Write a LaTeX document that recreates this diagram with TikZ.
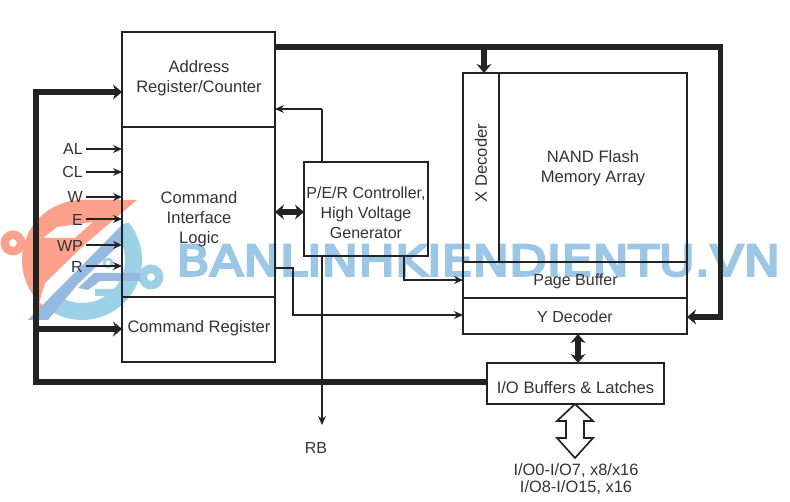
\documentclass[tikz,border=0pt]{standalone}
\usepackage{fontspec}
\setmainfont{Liberation Sans}
\newfontfamily\wmfont[FakeBold=5]{DejaVu Sans}
\usetikzlibrary{arrows.meta,calc}
\definecolor{ink}{RGB}{35,35,35}
\definecolor{txt}{RGB}{50,50,55}
\definecolor{wmred}{RGB}{253,160,140}
\definecolor{wmblue}{RGB}{155,208,230}
\definecolor{wmblue2}{RGB}{150,185,225}
\definecolor{wmtext}{RGB}{155,198,230}
\tikzset{
  box/.style={draw=ink,line width=1.9pt,inner sep=0pt,outer sep=0pt,rectangle,text=txt,align=center,font=\fontsize{16}{20}\selectfont},
  lab/.style={text=txt,align=center,inner sep=0pt,font=\fontsize{16}{20}\selectfont},
  biglab/.style={lab,font=\fontsize{16.6}{20}\selectfont},
  siglab/.style={text=txt,inner sep=2pt,anchor=east,font=\fontsize{16}{20}\selectfont},
  thin arrow/.style={draw=ink,line width=1.1pt,-{Stealth[length=9pt,width=8pt]}},
  thin line/.style={draw=ink,line width=1.1pt},
  bus/.style={draw=ink,line width=5.8pt,miter limit=10},
  bus arrow/.style={bus,-{Stealth[length=9pt,width=15pt]}},
  bus both/.style={bus,{Stealth[length=9pt,width=15pt]}-{Stealth[length=9pt,width=15pt]}}
}
\begin{document}
\begin{tikzpicture}[x=1pt,y=-1pt]
\useasboundingbox (0,0) rectangle (790,502);
% watermark
\fill[wmred,even odd rule] (137,200) -- (82,200) arc[start angle=270,end angle=130,radius=60] -- (37,310) -- (45,283) -- (83,246) -- (118,216) -- cycle
  (57,227) -- (93,222) -- (75,238) -- (43,238) -- cycle;
\fill[wmred,even odd rule] (13,243) circle[radius=12.5] (13,243) circle[radius=4];
\fill[wmred] (24,240) rectangle (84,247);
\fill[wmred,even odd rule] (56,257) circle[radius=5.5] (56,257) circle[radius=2.5];
\begin{scope}
  \clip (28,320) -- (123,224) -- (160,215) -- (160,325) -- (28,325) -- cycle;
  \fill[wmblue,even odd rule] (82,260) circle[radius=60] (82,260) circle[radius=43];
\end{scope}
\fill[wmblue2] (28,320) -- (123,224) -- (123,241) -- (78,284) -- (48,320) -- cycle;
\fill[wmblue,even odd rule] (151,277) circle[radius=12.5] (151,277) circle[radius=4];
\fill[wmblue2] (94,273) -- (140,273) -- (140,281) -- (100,281) -- (88,290) -- (78,288) -- cycle;
\fill[wmblue] (95,289) -- (134,289) -- (128,296) -- (95,296) -- cycle;
\fill[wmblue,even odd rule] (108,263) circle[radius=5.5] (108,263) circle[radius=2.5];
\node[anchor=west,inner sep=0pt,text=wmtext] (wm) at (176,260.5) {\resizebox{604pt}{31pt}{\wmfont BANLINHKIENDIENTU.VN}};
% boxes
\node[box,minimum width=153pt,minimum height=95pt] (addr) at (198.5,79.5) {};
\node[biglab] (addrt) at (199,78) {Address\\Register/Counter};
\node[box,minimum width=153pt,minimum height=170pt] (cil) at (198.5,212) {};
\node[biglab] (cilt) at (199,219) {Command\\Interface\\Logic};
\node[box,minimum width=153pt,minimum height=65pt] (creg) at (198.5,329.5) {};
\node[biglab] (cregt) at (199,328) {Command Register};
\node[box,minimum width=124pt,minimum height=94pt] (per) at (366,209) {};
\node[lab] (pert) at (366,213) {P/E/R Controller,\\High Voltage\\Generator};
\node[box,minimum width=36pt,minimum height=189pt] (xdec) at (481,167.5) {};
\node[biglab,rotate=90] (xdect) at (481,163) {X Decoder};
\node[box,minimum width=188pt,minimum height=189pt] (nand) at (593,167.5) {};
\node[biglab] (nandt) at (593,168) {NAND Flash\\Memory Array};
\node[box,minimum width=224pt,minimum height=36pt] (page) at (575,280) {};
\node[lab] (paget) at (575.5,281) {Page Buffer};
\node[box,minimum width=224pt,minimum height=36pt] (ydec) at (575,316) {};
\node[lab] (ydect) at (575,317) {Y Decoder};
\node[box,minimum width=177pt,minimum height=41pt] (io) at (575.5,383.5) {};
\node[biglab] (iot) at (575.5,388) {I/O Buffers \& Latches};
% signals
\foreach \n/\t/\y in {al/AL/149,cl/CL/172,w/W/197,e/E/220,wp/WP/246,r/R/267}{
  \node[siglab] (\n) at (85,\y) {\t};
}
\foreach \n/\y in {al/149,cl/172,w/197,e/219,wp/245,r/266}{
  \coordinate (\n s) at (86,\y);
  \draw[thin arrow] (\n s) -- (\n s -| cil.west);
}
% coordinates
\coordinate (tr) at (720.5,47);
\coordinate (tl) at (addr.east |- tr);
\coordinate (lb) at (36,382);
\coordinate (lt) at (36,92);
\coordinate (lm) at (36,329);
\coordinate (xt) at (484,47);
\coordinate (yr) at (720.5,317);
% buses
\draw[bus] (tl) -- (tr) -- (yr);
\draw[bus arrow] (yr) ++(2.9,0) -- (ydec.east |- yr);
\draw[bus arrow] (xt) -- (xt |- xdec.north);
\draw[bus] (io.west |- lb) -- (lb) -- (lt);
\draw[bus arrow] (36,92) ++(-2.9,0) -- (addr.west |- lt);
\draw[bus arrow] (lm) -- (creg.west |- lm);
\draw[bus both] (cil.east |- per.west) ++(0,3) -- ($(per.west)+(0,3)$);
\coordinate (ym) at (578,334);
\draw[bus both] (ym) -- (ym |- io.north);
% thin connectors
\coordinate (rbtop) at (322,109);
\coordinate (rbend) at (322,425);
\draw[thin arrow] (rbtop) -- (addr.east |- rbtop);
\draw[thin line] (rbtop) -- (rbtop |- per.north);
\draw[thin arrow] (rbtop |- per.south) -- (rbend);
\node[lab] (rb) at (316,448) {RB};
\coordinate (pb) at (404,280);
\draw[thin arrow] (pb |- per.south) -- (pb) -- (page.west |- pb);
\coordinate (c1) at (293,268);
\coordinate (c2) at (293,315);
\draw[thin arrow] (c1 -| cil.east) -- (c1) -- (c2) -- (c2 -| ydec.west);
% hollow double arrow
\draw[draw=ink,line width=1.7pt,fill=white,line join=miter] (575,404) -- (593,421) -- (584,421) -- (584,438) -- (593,438) -- (575,458) -- (557,438) -- (566,438) -- (566,421) -- (557,421) -- cycle;
\node[lab,font=\fontsize{16.4}{17}\selectfont] (iol) at (576,479.5) {I/O0-I/O7, x8/x16\\I/O8-I/O15, x16};
\end{tikzpicture}
\end{document}
